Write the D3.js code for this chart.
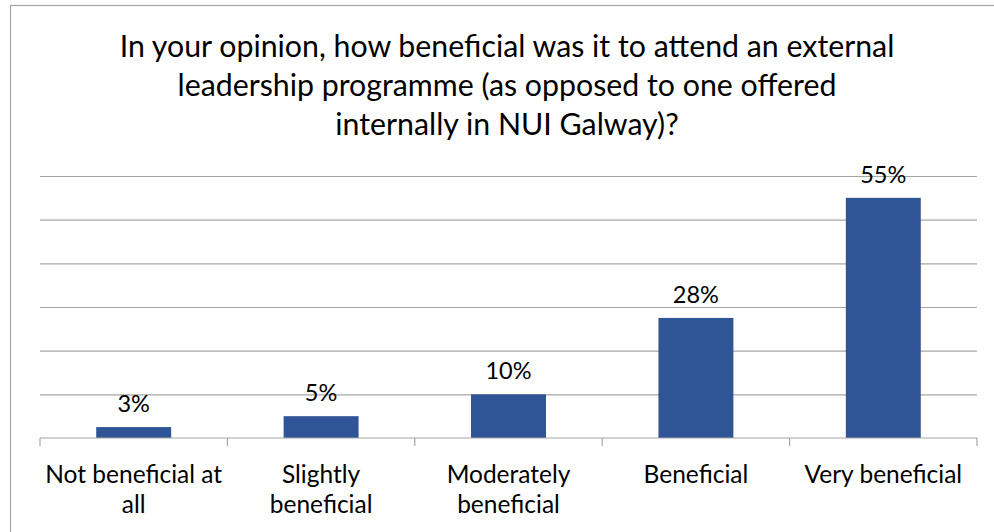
<!DOCTYPE html>
<html lang="en">
<head>
  <meta charset="UTF-8">
  <title>External leadership programme</title>
  <script src="https://d3js.org/d3.v7.min.js"></script>
  <style>
    html, body { margin: 0; padding: 0; background: #fff; }
    svg { display: block; font-family: Lato, "Open Sans", sans-serif; }
  </style>
</head>
<body>
<svg id="chart" width="994" height="532"></svg>
<script>
  // Données
  const titleLines = [
    "In your opinion, how beneficial was it to attend an external",
    "leadership programme (as opposed to one offered",
    "internally in NUI Galway)?"
  ];
  const categories = [
    "Not beneficial at\nall",
    "Slightly\nbeneficial",
    "Moderately\nbeneficial",
    "Beneficial",
    "Very beneficial"
  ];
  const shares = [0.025, 0.05, 0.10, 0.275, 0.55];
  const yTicks = [0.1, 0.2, 0.3, 0.4, 0.5, 0.6];

  const svg = d3.select("#chart");
  const plot = {left: 40, right: 977, top: 176, bottom: 438};

  // cadre du graphique
  svg.append("rect")
     .attr("x", 10.5).attr("y", 5.5)
     .attr("width", 1000).attr("height", 600)
     .attr("fill", "#fff")
     .attr("stroke", "#a6a6a6")
     .attr("stroke-width", 1.2);

  // titre
  svg.append("text")
     .attr("x", 507)
     .attr("text-anchor", "middle")
     .attr("font-size", 30.3)
     .attr("fill", "#000")
     .selectAll("tspan")
     .data(titleLines)
     .join("tspan")
       .attr("x", 507)
       .attr("y", (d, i) => 57 + i * 39)
       .text(d => d);

  const x = d3.scaleBand()
              .domain(categories)
              .range([plot.left, plot.right])
              .paddingInner(0.6)
              .paddingOuter(0.3);

  const y = d3.scaleLinear()
              .domain([0, 0.6])
              .range([plot.bottom, plot.top]);

  // lignes de grille
  svg.append("g")
     .attr("transform", `translate(${plot.left},0)`)
     .call(d3.axisLeft(y)
             .tickValues(yTicks)
             .tickSize(-(plot.right - plot.left))
             .tickFormat(""))
     .call(g => g.select(".domain").remove())
     .call(g => g.selectAll(".tick line")
                 .attr("stroke", "#a6a6a6")
                 .attr("stroke-width", 1.2));

  // barres
  svg.append("g")
     .selectAll("rect")
     .data(shares)
     .join("rect")
       .attr("x", (d, i) => x(categories[i]))
       .attr("width", x.bandwidth())
       .attr("y", d => y(d))
       .attr("height", d => y(0) - y(d))
       .attr("fill", "#2f5597");

  // étiquettes de valeur
  svg.append("g")
     .attr("text-anchor", "middle")
     .attr("font-size", 23.5)
     .attr("fill", "#000")
     .selectAll("text")
     .data(shares)
     .join("text")
       .attr("x", (d, i) => x(categories[i]) + x.bandwidth() / 2)
       .attr("y", d => y(d) - 15)
       .text(d => d3.format(".0%")(d));

  // axe horizontal : ligne + graduations aux limites des catégories
  const bounds = d3.range(categories.length + 1)
                   .map(i => plot.left + i * x.step());
  const xAxis = svg.append("g");
  xAxis.append("line")
       .attr("x1", plot.left).attr("x2", plot.right)
       .attr("y1", y(0)).attr("y2", y(0))
       .attr("stroke", "#a6a6a6")
       .attr("stroke-width", 1.2);
  xAxis.selectAll(".bound")
       .data(bounds)
       .join("line")
         .attr("class", "bound")
         .attr("x1", d => d).attr("x2", d => d)
         .attr("y1", y(0)).attr("y2", y(0) + 8)
         .attr("stroke", "#a6a6a6")
         .attr("stroke-width", 1.2);

  // libellés des catégories
  svg.append("g")
     .attr("text-anchor", "middle")
     .attr("font-size", 24.5)
     .attr("fill", "#000")
     .selectAll("text")
     .data(categories)
     .join("text")
       .attr("transform", d => `translate(${x(d) + x.bandwidth() / 2},0)`)
       .selectAll("tspan")
       .data(d => d.split("\n"))
       .join("tspan")
         .attr("x", 0)
         .attr("y", (d, i) => 483 + i * 30)
         .text(d => d);
</script>
</body>
</html>
